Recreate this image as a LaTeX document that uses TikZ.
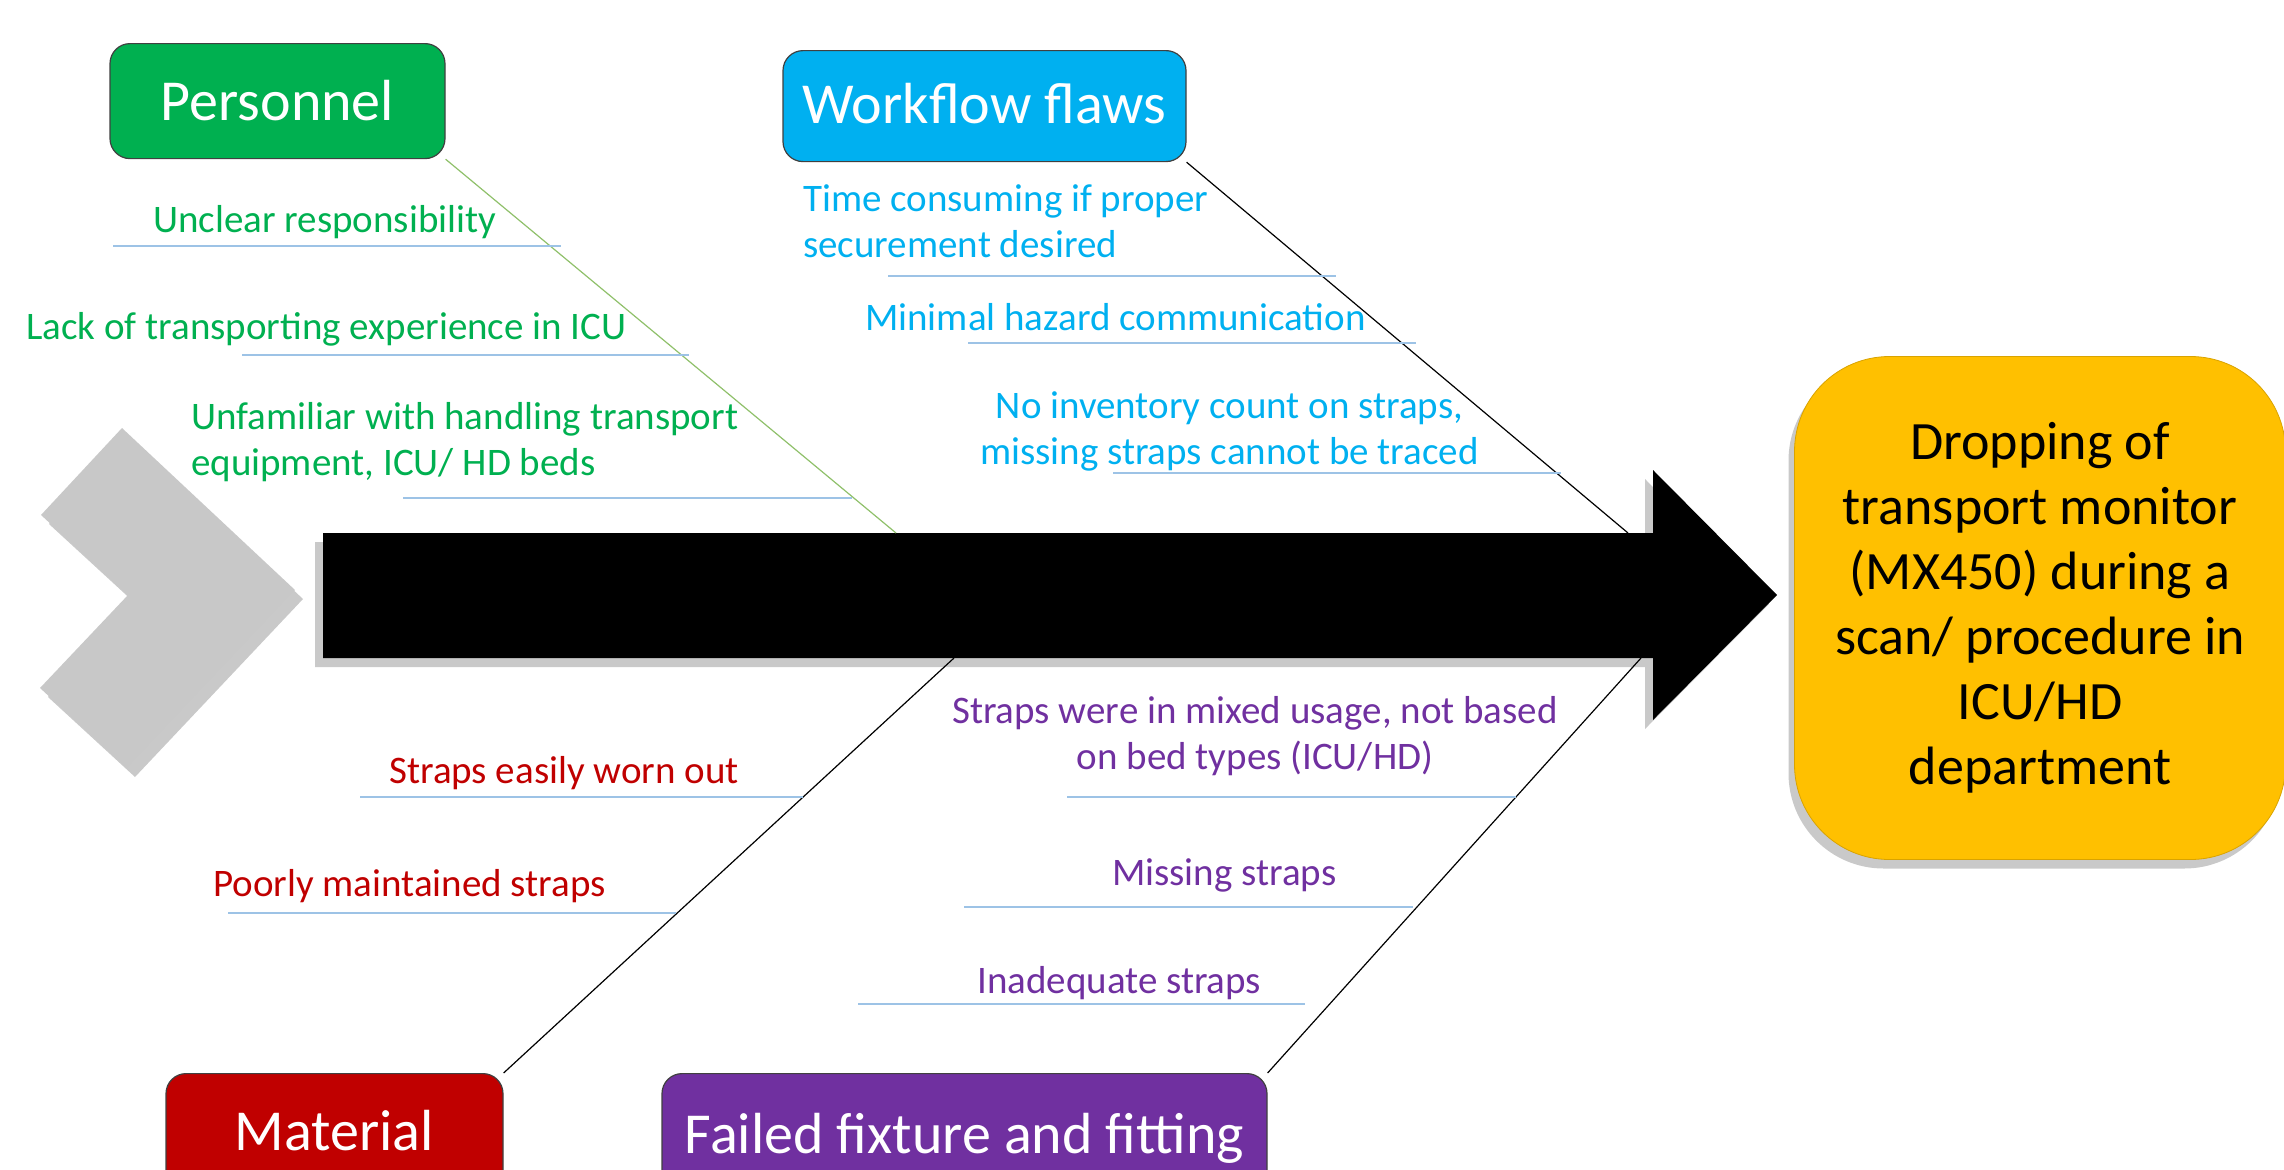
\documentclass[tikz,border=0pt]{standalone}
\usepackage{fontspec}
\setmainfont{Carlito}
\usetikzlibrary{shadows}
\definecolor{cgreen}{HTML}{00B050}
\definecolor{cblue}{HTML}{00B0F0}
\definecolor{cred}{HTML}{C00000}
\definecolor{cpurple}{HTML}{7030A0}
\definecolor{cyellow}{HTML}{FFC000}
\definecolor{ulinec}{HTML}{9DC3E6}
\definecolor{bonegreen}{HTML}{8FC06A}
\definecolor{chev}{HTML}{C8C8C8}
\tikzset{
  headbox/.style={draw=black!75, line width=1.2pt, rounded corners=20pt, text=white,
    inner xsep=0pt, inner ysep=0pt, anchor=north, font=\fontsize{58}{70}\selectfont},
  cause/.style={inner sep=0pt, font=\fontsize{39}{46}\selectfont},
  uline/.style={draw=ulinec, line width=2pt},
  bone/.style={draw=black, line width=1.2pt},
  softshadow/.style={drop shadow={shadow xshift=#1, shadow yshift=-9pt, opacity=0.3, fill=black!70}},
}
\begin{document}
\begin{tikzpicture}[x=1pt,y=-1pt]
\useasboundingbox (0,0) rectangle (2284,1170);
\clip (0,0) rectangle (2284,1170);

% chevron tail
\fill[chev, softshadow=8pt] (122,428) -- (295,590) -- (127,768) -- (40,688) -- (128,595) -- (41,515) -- cycle;

% spine arrow
\fill[black, softshadow=-8pt] (323,533) -- (1653,533) -- (1653,470) -- (1777,595) -- (1653,720) -- (1653,658) -- (323,658) -- cycle;

\coordinate (g1) at (896,533);
\coordinate (b1) at (1628,533);
\coordinate (r1) at (954,658);
\coordinate (p1) at (1641,658);

% heads
\node[headbox, fill=cgreen, minimum width=335pt, text height=77pt, text depth=38pt] (pers) at (277.5,43) {Personnel};
\node[headbox, fill=cblue, minimum width=403pt, text height=73pt, text depth=38pt] (wf) at (984.5,50) {Workflow flaws};
\node[headbox, fill=cred, minimum width=337pt, text height=77pt, text depth=60pt] (mat) at (334.5,1073) {Material};
\node[headbox, fill=cpurple, minimum width=605pt, text height=80pt, text depth=60pt] (fail) at (964.5,1073) {Failed fixture and fitting};

% effect
\node[fill=cyellow, draw=cyellow!85!black, line width=0.8pt, rounded corners=95pt, minimum width=491pt, minimum height=503pt,
  align=center, font=\fontsize{54}{65}\selectfont, softshadow=-6pt] (eff) at (2040,608)
  {Dropping of\\transport monitor\\(MX450) during a\\scan/ procedure in\\ICU/HD\\department};

% bones
\draw[bone, draw=bonegreen] (pers.south east) -- (g1);
\draw[bone] (wf.south east) -- (b1);
\draw[bone] (mat.north east) -- (r1);
\draw[bone] (fail.north east) -- (p1);

% underlines
\draw[uline] (113,246) -- (561,246);
\draw[uline] (242,355) -- (689,355);
\draw[uline] (403,498) -- (852,498);
\draw[uline] (888,276) -- (1336,276);
\draw[uline] (968,343) -- (1416,343);
\draw[uline] (1113,473) -- (1561,473);
\draw[uline] (360,797) -- (803,797);
\draw[uline] (228,913) -- (676,913);
\draw[uline] (1067,797) -- (1516,797);
\draw[uline] (964,907) -- (1413,907);
\draw[uline] (858,1004) -- (1305,1004);

% causes
\node[cause, text=cgreen, anchor=base west] (c1) at (153,232) {Unclear responsibility};
\node[cause, text=cgreen, anchor=base west] (c2) at (26,339) {Lack of transporting experience in ICU};
\node[cause, text=cgreen, anchor=base west, align=left] (c3) at (191,475) {Unfamiliar with handling transport\\equipment, ICU/ HD beds};

\node[cause, text=cblue, anchor=base west, align=left] (c4) at (803,257) {Time consuming if proper\\securement desired};
\node[cause, text=cblue, anchor=base west] (c5) at (865,330) {Minimal hazard communication};
\node[cause, text=cblue, anchor=base, align=center] (c6) at (1229.5,464) {No inventory count on straps,\\missing straps cannot be traced};

\node[cause, text=cred, anchor=base west] (c7) at (389,783) {Straps easily worn out};
\node[cause, text=cred, anchor=base west] (c8) at (213,896) {Poorly maintained straps};

\node[cause, text=cpurple, anchor=base, align=center] (c9) at (1255,769) {Straps were in mixed usage, not based\\on bed types (ICU/HD)};
\node[cause, text=cpurple, anchor=base west] (c10) at (1112,885) {Missing straps};
\node[cause, text=cpurple, anchor=base west] (c11) at (977,993) {Inadequate straps};
\end{tikzpicture}
\end{document}
